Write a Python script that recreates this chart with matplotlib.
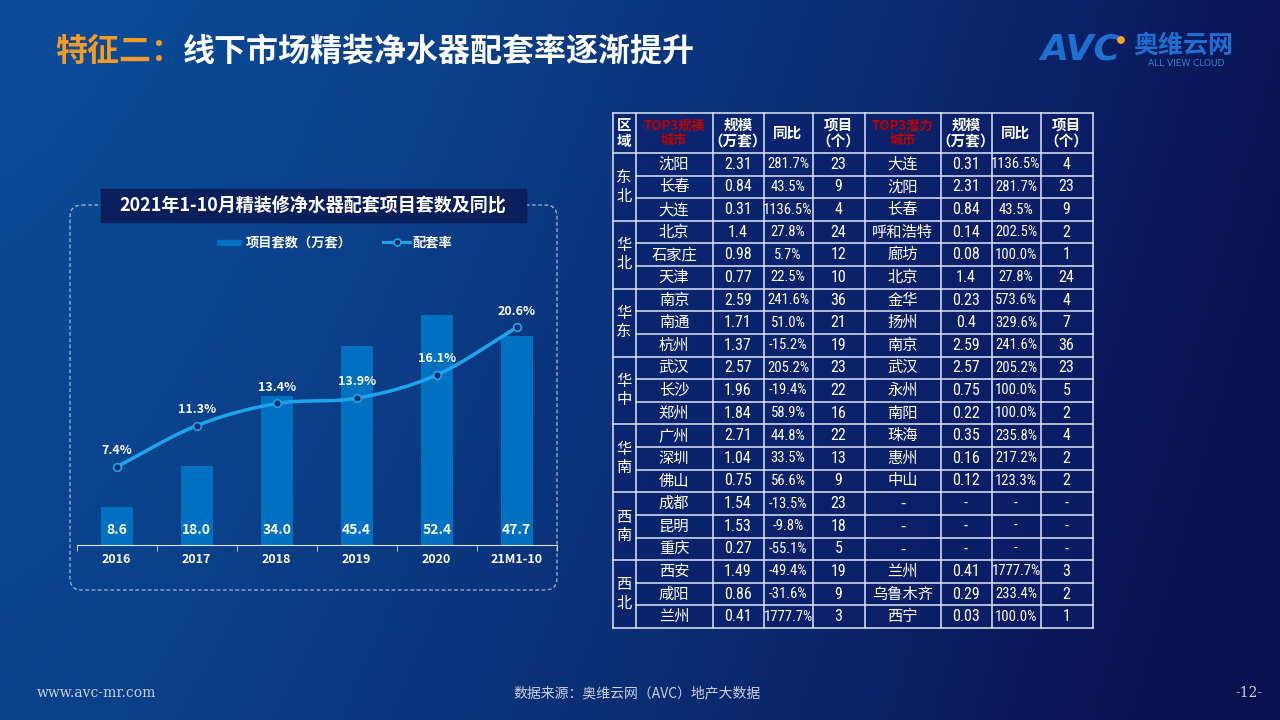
import numpy as np
import matplotlib
matplotlib.use('Agg')
import matplotlib.pyplot as plt
from matplotlib import font_manager
from matplotlib.patches import Rectangle, FancyBboxPatch, Circle
from matplotlib.lines import Line2D

plt.rcParams['font.family'] = ['Noto Sans CJK SC', 'DejaVu Sans']

# chart data
years = ['2016', '2017', '2018', '2019', '2020', '21M1-10']
units = [8.6, 18.0, 34.0, 45.4, 52.4, 47.7]          # 项目套数（万套）
rate = [7.4, 11.3, 13.4, 13.9, 16.1, 20.6]           # 配套率 %

# table data
regions = ['东北', '华北', '华东', '华中', '华南', '西南', '西北']
top_city = ['沈阳', '长春', '大连', '北京', '石家庄', '天津', '南京', '南通', '杭州',
            '武汉', '长沙', '郑州', '广州', '深圳', '佛山', '成都', '昆明', '重庆',
            '西安', '咸阳', '兰州']
top_scale = [2.31, 0.84, 0.31, 1.4, 0.98, 0.77, 2.59, 1.71, 1.37, 2.57, 1.96, 1.84,
             2.71, 1.04, 0.75, 1.54, 1.53, 0.27, 1.49, 0.86, 0.41]
top_yoy = [281.7, 43.5, 1136.5, 27.8, 5.7, 22.5, 241.6, 51.0, -15.2, 205.2, -19.4, 58.9,
           44.8, 33.5, 56.6, -13.5, -9.8, -55.1, -49.4, -31.6, 1777.7]
top_proj = [23, 9, 4, 24, 12, 10, 36, 21, 19, 23, 22, 16, 22, 13, 9, 23, 18, 5, 19, 9, 3]
pot_city = ['大连', '沈阳', '长春', '呼和浩特', '廊坊', '北京', '金华', '扬州', '南京',
            '武汉', '永州', '南阳', '珠海', '惠州', '中山', None, None, None,
            '兰州', '乌鲁木齐', '西宁']
pot_scale = [0.31, 2.31, 0.84, 0.14, 0.08, 1.4, 0.23, 0.4, 2.59, 2.57, 0.75, 0.22,
             0.35, 0.16, 0.12, None, None, None, 0.41, 0.29, 0.03]
pot_yoy = [1136.5, 281.7, 43.5, 202.5, 100.0, 27.8, 573.6, 329.6, 241.6, 205.2, 100.0,
           100.0, 235.8, 217.2, 123.3, None, None, None, 1777.7, 233.4, 100.0]
pot_proj = [4, 23, 9, 2, 1, 24, 4, 7, 36, 23, 5, 2, 4, 2, 2, None, None, None, 3, 2, 1]

headers = ['区\n域', 'TOP3规模\n城市', '规模\n（万套）', '同比', '项目\n（个）',
           'TOP3潜力\n城市', '规模\n（万套）', '同比', '项目\n（个）']

# a narrow face for the numbers, if one is installed
names = {f.name for f in font_manager.fontManager.ttflist}
narrow = next((n for n in ['Liberation Sans Narrow', 'DejaVu Sans Condensed',
                           'Roboto Condensed', 'Open Sans Condensed'] if n in names), None)
num_font = [narrow, 'Noto Sans CJK SC'] if narrow else ['Noto Sans CJK SC']

W, H = 1280, 720
fig = plt.figure(figsize=(12.8, 7.2), dpi=100)

# background gradient + overlay in pixel coords
ax = fig.add_axes([0, 0, 1, 1], zorder=0)
ax.set_xlim(0, W)
ax.set_ylim(H, 0)
ax.axis('off')
gx, gy = np.meshgrid(np.linspace(0, 1, 320), np.linspace(0, 1, 180))
t = np.clip(0.95 * gx ** 1.4 + 0.2 * gy - 0.05, 0, 1)[..., None]
c1 = np.array([11, 74, 150]) / 255
c2 = np.array([10, 16, 80]) / 255
ax.imshow(c1 * (1 - t) + c2 * t, extent=(0, W, H, 0), aspect='auto', zorder=0)

# title
ax.text(55, 52, '特征二：', color='#F29B26', fontsize=23, fontweight='bold', va='center')
ax.text(183, 52, '线下市场精装净水器配套率逐渐提升', color='white', fontsize=23,
        fontweight='bold', va='center')

# logo
ax.text(1040, 50, 'AVC', color='#1F6FD0', fontsize=26, fontweight='bold',
        fontstyle='italic', va='center', family='DejaVu Sans')
ax.add_patch(Circle((1121, 40), 3.2, color='#F5A623', zorder=3))
ax.text(1133, 46, '奥维云网', color='#1F6FD0', fontsize=18, fontweight='bold', va='center')
ax.text(1148, 63, 'ALL VIEW CLOUD', color='#3A7FD0', fontsize=6.5, va='center',
        family='DejaVu Sans')

# footer
ax.text(37, 693, 'www.avc-mr.com', color='#C8D0E0', fontsize=10, va='center',
        family='DejaVu Serif')
ax.text(637, 693, '数据来源：奥维云网（AVC）地产大数据', color='#C8D0E0', fontsize=10,
        va='center', ha='center')
ax.text(1262, 693, '-12-', color='#C8D0E0', fontsize=10, va='center', ha='right',
        family='DejaVu Serif')

# chart frame and title box
ax.add_patch(FancyBboxPatch((70, 205), 487, 385, boxstyle='round,pad=0,rounding_size=12',
                            fill=False, ec='#C8D8F0', lw=0.9, ls=(0, (3, 2)), alpha=0.8))
ax.add_patch(Rectangle((101, 189), 425, 33, color='#0A1F5C', zorder=3))
ax.text(313, 206, '2021年1-10月精装修净水器配套项目套数及同比', color='white',
        fontsize=13, fontweight='bold', ha='center', va='center', zorder=4)

# legend
ax.add_patch(Rectangle((217, 239.5), 24, 5, color='#0070C0'))
ax.text(246, 242, '项目套数（万套）', color='white', fontsize=9.5, fontweight='bold',
        va='center')
ax.add_line(Line2D([383, 410], [242, 242], color='#1CA6EA', lw=2.2, zorder=3))
ax.plot([396.5], [242], 'o', ms=5, mfc='#0B2B6B', mec='#1CA6EA', mew=1.2, zorder=4)
ax.text(412, 242, '配套率', color='white', fontsize=9.5, fontweight='bold', va='center')

# table
col_w = [23, 77, 51, 49, 52, 76, 51, 49, 52]
xe = 612.5 + np.concatenate([[0], np.cumsum(col_w)])
xc = (xe[:-1] + xe[1:]) / 2
y_top, y_head = 113, 153
row_h = (628 - y_head) / 21
ye = y_head + row_h * np.arange(22)
yc = (ye[:-1] + ye[1:]) / 2
ax.add_patch(Rectangle((xe[0], y_top), xe[-1] - xe[0], ye[-1] - y_top,
                       color='#0A1E6A', alpha=0.65, lw=0, zorder=1))
lc = '#DDE6F5'
for x in xe:
    ax.plot([x, x], [y_top, ye[-1]], color=lc, lw=1.1, zorder=2)
ax.plot([xe[0], xe[-1]], [y_top, y_top], color=lc, lw=1.1, zorder=2)
for i, y in enumerate(ye):
    x0 = xe[0] if i % 3 == 0 else xe[1]
    ax.plot([x0, xe[-1]], [y, y], color=lc, lw=1.1, zorder=2)

for j, h in enumerate(headers):
    red = h.startswith('TOP3')
    ax.text(xc[j], (y_top + y_head) / 2, h, color='#C00000' if red else 'white',
            fontsize=9.5 if red else 10.5, fontweight='bold', ha='center', va='center',
            linespacing=1.05, zorder=3)
for g, r in enumerate(regions):
    ax.text(xc[0], yc[3 * g + 1], '\n'.join(r), color='white', fontsize=11,
            ha='center', va='center', linespacing=1.1, zorder=3)


def fmt_pct(v):
    return '-' if v is None else f'{v:.1f}%'


def fmt(v):
    return '-' if v is None else str(v)


for i in range(21):
    cells = [fmt(top_city[i]), fmt(top_scale[i]), fmt_pct(top_yoy[i]), fmt(top_proj[i]),
             fmt(pot_city[i]), fmt(pot_scale[i]), fmt_pct(pot_yoy[i]), fmt(pot_proj[i])]
    for j, c in enumerate(cells):
        if j in (0, 4):
            ax.text(xc[j + 1], yc[i], c, color='white', fontsize=11, ha='center',
                    va='center', zorder=3)
        else:
            fs = (10.5 if j in (2, 6) else 11.5) if narrow else (9.5 if j in (2, 6) else 10.5)
            ax.text(xc[j + 1], yc[i], c, color='white', fontsize=fs, ha='center',
                    va='center', zorder=3, family=num_font)

# bar + line chart
cx = fig.add_axes([76.7 / W, (H - 545) / H, 480 / W, 245 / H], zorder=2)
cx.patch.set_alpha(0)
x = np.arange(len(years))
cx.bar(x, units, width=0.4, color='#0070C0', zorder=1)
for xi, v in zip(x, units):
    cx.text(xi, 3.5, f'{v:.1f}', color='white', fontsize=10, fontweight='bold',
            ha='center', va='center')
cx.set_xlim(-0.5, len(years) - 0.5)
cx.set_ylim(0, 55.8)
for s in ['top', 'left', 'right']:
    cx.spines[s].set_visible(False)
cx.spines['bottom'].set_color('#DDE6F5')
cx.set_yticks([])
cx.set_xticks(x)
cx.set_xticklabels(years, color='white', fontsize=9, fontweight='bold')
cx.tick_params(axis='x', which='major', length=0, pad=6)
cx.set_xticks(np.arange(-0.5, len(years)), minor=True)
cx.tick_params(axis='x', which='minor', length=4, color='#DDE6F5', direction='out')

# smooth rate line (cubic hermite through the data points)
r = np.array(rate)
m = np.gradient(r)
xs, ys = [], []
for i in range(len(r) - 1):
    s = np.linspace(0, 1, 30)
    h00 = 2 * s**3 - 3 * s**2 + 1
    h10 = s**3 - 2 * s**2 + s
    h01 = -2 * s**3 + 3 * s**2
    h11 = s**3 - s**2
    xs.extend(i + s)
    ys.extend(h00 * r[i] + h10 * m[i] + h01 * r[i + 1] + h11 * m[i + 1])
tx = cx.twinx()
tx.set_ylim(0, 23.2)
tx.axis('off')
tx.plot(xs, ys, color='#1CA6EA', lw=2.5, solid_capstyle='round')
tx.plot(x, rate, 'o', ms=5.5, mfc='#0B2B6B', mec='#1CA6EA', mew=1.2)
for xi, v in zip(x, rate):
    tx.text(xi, v + 1.55, f'{v:.1f}%', color='white', fontsize=9, fontweight='bold',
            ha='center', va='center', clip_on=False)

fig.savefig('out.png', dpi=100)
